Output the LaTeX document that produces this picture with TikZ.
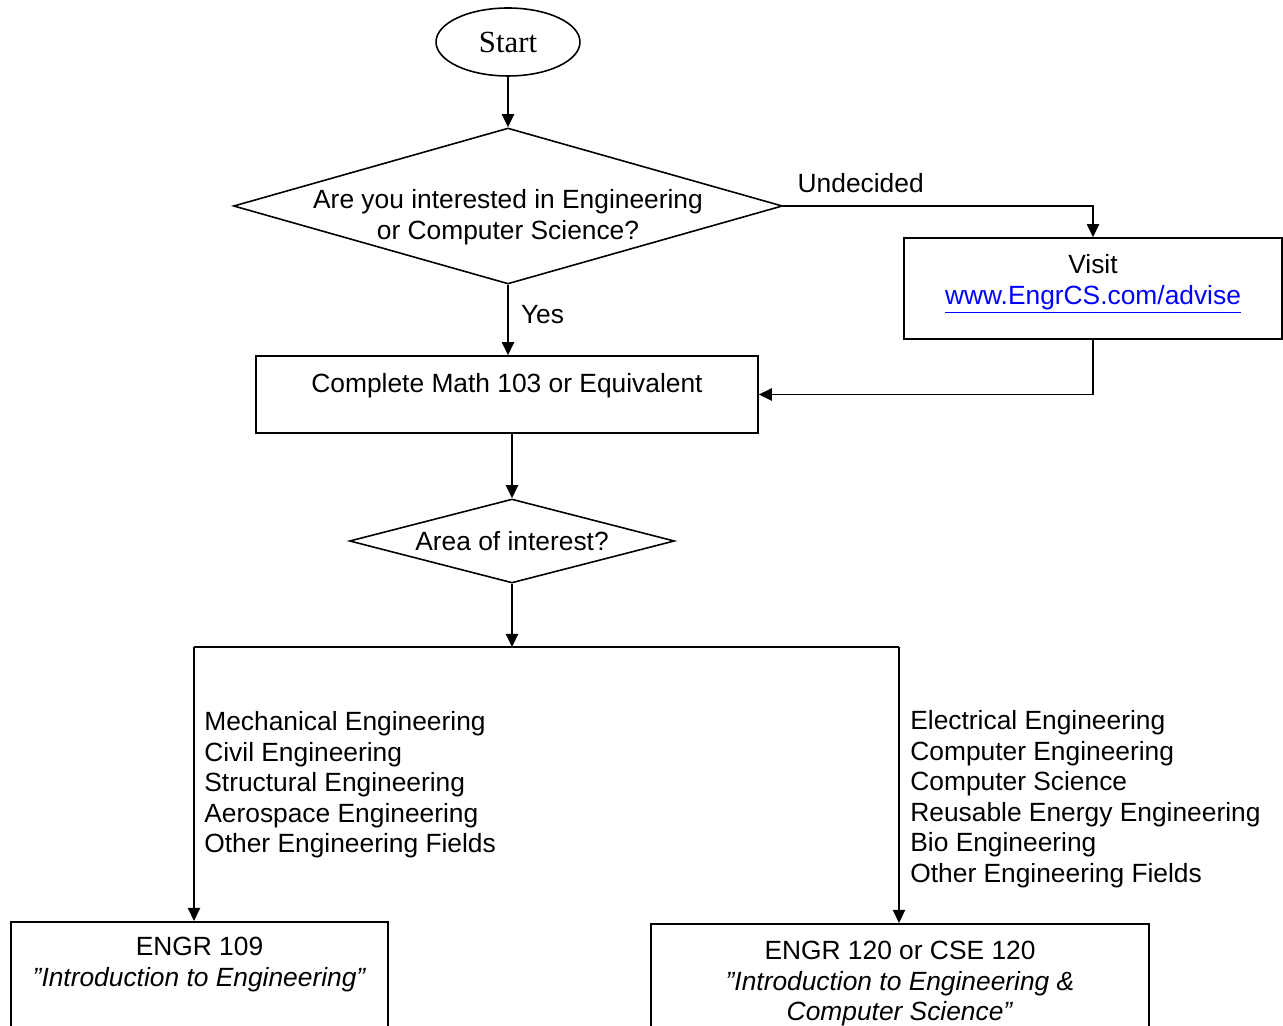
\documentclass[tikz,border=0pt]{standalone}
\usepackage{fontspec}
\setmainfont{Liberation Sans}
\newfontfamily\startfont{Liberation Serif}
\usetikzlibrary{arrows.meta,shapes.geometric,positioning}
\definecolor{Link}{HTML}{0000FF}

\begin{document}
\begin{tikzpicture}[
  x=0.02cm,y=-0.02cm,>={Triangle[length=7.5pt,width=7pt]},
  every node/.style={font=\fontsize{15}{17.4}\selectfont},
  term/.style={draw,ellipse,line width=.9pt,minimum width=2.88cm,
    minimum height=1.36cm,inner sep=0pt,
    font=\startfont\fontsize{17.5}{20}\selectfont},
  decide/.style={draw,diamond,line width=.9pt,align=center,inner sep=0pt},
  procbox/.style={draw,rectangle,line width=.9pt,align=center,inner sep=0pt},
  flow/.style={->,line width=.85pt},
  link/.style={line width=.85pt},
  lbl/.style={inner sep=0pt},
  fieldlist/.style={align=left,anchor=north west,inner sep=0pt}
]
\useasboundingbox (0,0) rectangle (1283,1026);
\node[term] (start) at (508,42) {Start};
% text sits below the middle of the first diamond, so it is a shifted label
\node[decide,minimum width=10.98cm,minimum height=3.12cm,
  label={[align=center,yshift=-0.22cm]center:Are you interested in Engineering\\or Computer Science?}]
  (interest) at (508,206) {};
\node[procbox,minimum width=7.56cm,minimum height=2.02cm] (visit) at (1093,288.5)
  {Visit\\\textcolor{Link}{\underline{www.EngrCS.com/advise}}\\[-12pt]\strut};
\node[procbox,minimum width=10.04cm,minimum height=1.54cm] (math) at (507,394.5)
  {Complete Math 103 or Equivalent\\[-9pt]\strut};
\node[decide,aspect=3.87,minimum width=6.5cm,minimum height=1.68cm] (area)
  at (512,541) {Area of interest?};
% branch split under the second decision
\coordinate (split) at (512,647);
\coordinate (lefttop) at (194,647);
\coordinate (righttop) at (899,647);
\node[fieldlist] (mechlist) at (204,711) {Mechanical Engineering\\Civil Engineering\\
  Structural Engineering\\Aerospace Engineering\\Other Engineering Fields};
\node[fieldlist] (eelist) at (910,710) {Electrical Engineering\\Computer Engineering\\
  Computer Science\\Reusable Energy Engineering\\Bio Engineering\\Other Engineering Fields};
\node[procbox,minimum width=7.54cm,minimum height=2.4cm,anchor=north] (engr)
  at (199.5,921) {ENGR 109\\\textit{”Introduction to Engineering”}\\\strut};
\node[procbox,minimum width=9.96cm,minimum height=2.4cm,anchor=north] (cse)
  at (900,923) {ENGR 120 or CSE 120\\\textit{”Introduction to Engineering \&}\\
  \textit{Computer Science”}};
\draw[flow] (start)--(interest);
\draw[flow] (interest.east) -| node[lbl,pos=.125,above=7pt]{Undecided} (visit.north);
\draw[flow] (interest.south) -- node[lbl,pos=.42,right=7pt]{Yes} (interest.south |- math.north);
\draw[flow] (visit.south) |- (math.east);
\draw[flow] (math.south -| area.north) -- (area.north);
\draw[flow] (area.south) -- (split);
\draw[link] (lefttop) -- (righttop);
\draw[flow] (lefttop) -- (lefttop |- engr.north);
\draw[flow] (righttop) -- (righttop |- cse.north);
\end{tikzpicture}
\end{document}
